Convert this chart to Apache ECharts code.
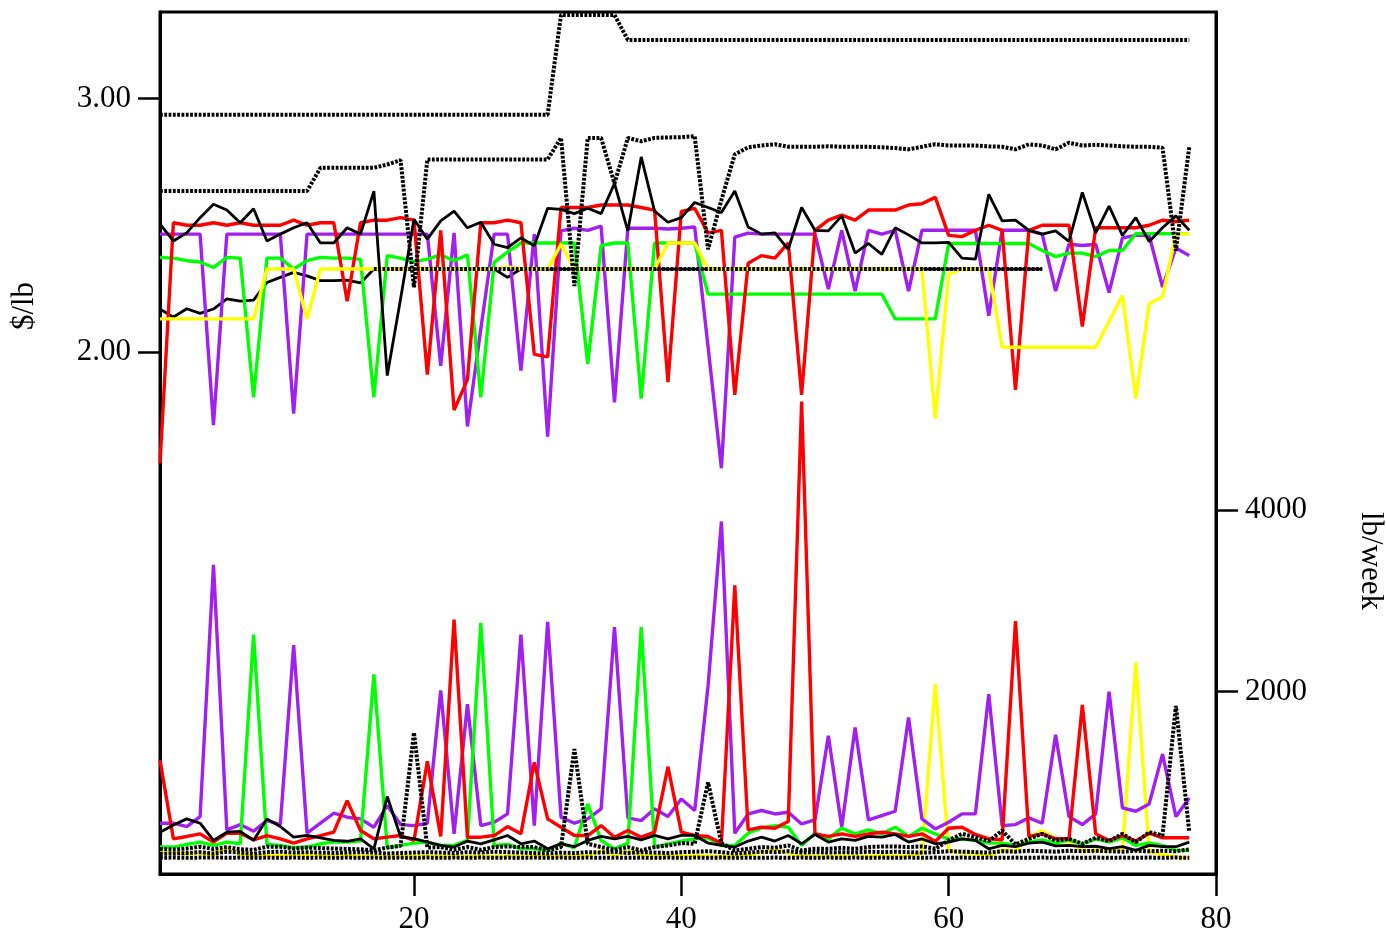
<!DOCTYPE html>
<html>
<head>
<meta charset="utf-8">
<script src="https://cdn.jsdelivr.net/npm/echarts@6/dist/echarts.min.js"></script>
<style>
html,body{margin:0;padding:0;background:#fff;}
#chart{width:1386px;height:935px;}
</style>
</head>
<body>
<div id="chart"></div>
<script>
const weeks = [1,2,3,4,5,6,7,8,9,10,11,12,13,14,15,16,17,18,19,20,21,22,23,24,25,26,27,28,29,30,31,32,33,34,35,36,37,38,39,40,41,42,43,44,45,46,47,48,49,50,51,52,53,54,55,56,57,58,59,60,61,62,63,64,65,66,67,68,69,70,71,72,73,74,75,76,77,78];

const xTicks = [20, 40, 60, 80];
const priceTicks = [2, 3];
const qtyTicks = [2000, 4000];

const redPrice = [1.56,2.51,2.50,2.50,2.51,2.50,2.51,2.50,2.50,2.50,
 2.52,2.50,2.51,2.51,2.20,2.51,2.52,2.52,2.53,2.52,
 1.91,2.48,1.77,1.89,2.51,2.51,2.52,2.51,1.99,1.98,
 2.57,2.57,2.57,2.58,2.58,2.58,2.57,2.56,1.88,2.555,
 2.567,2.47,2.48,1.83,2.35,2.38,2.37,2.43,1.83,2.48,
 2.52,2.54,2.52,2.56,2.56,2.56,2.58,2.585,2.61,2.46,
 2.455,2.48,2.50,2.48,1.85,2.48,2.50,2.50,2.50,2.10,
 2.49,2.49,2.49,2.49,2.50,2.52,2.515,2.52];
const redQty = [1245,377,403,432,340,439,439,366,413,377,
 330,377,413,450,798,468,377,395,413,359,
 1231,403,2795,395,395,413,512,432,1220,597,
 505,413,413,523,395,468,395,450,1172,450,
 414,403,329,3172,476,505,494,567,5200,432,
 403,432,403,432,450,432,403,432,348,494,
 505,425,377,366,2777,403,432,377,377,1853,
 432,359,413,352,439,388,388,388];

const purplePrice = [2.465,2.465,2.465,2.465,1.71,2.465,2.465,2.465,2.465,2.465,
 1.756,2.465,2.465,2.465,2.465,2.465,2.465,2.465,2.465,2.465,
 2.465,1.945,2.47,1.705,2.09,2.465,2.465,1.926,2.465,1.665,
 2.478,2.488,2.48,2.497,1.80,2.488,2.488,2.488,2.485,2.488,
 2.493,2.02,1.54,2.453,2.469,2.465,2.465,2.465,2.465,2.465,
 2.248,2.48,2.24,2.48,2.465,2.48,2.24,2.48,2.48,2.48,
 2.48,2.48,2.143,2.48,2.48,2.48,2.465,2.24,2.425,2.42,
 2.425,2.234,2.45,2.46,2.46,2.256,2.41,2.38];
const purpleQty = [549,549,512,622,3399,476,534,461,578,534,
 2513,439,549,659,615,597,505,743,534,523,
 549,2014,432,1861,523,560,652,2630,523,2769,
 615,549,597,707,2711,608,578,707,622,817,
 689,2062,3876,439,651,689,651,670,541,585,
 1513,504,1604,585,633,681,1714,596,486,559,
 652,652,1971,523,534,608,549,1524,622,534,
 652,2000,718,681,762,1311,622,827];

const greenPrice = [2.373,2.37,2.36,2.355,2.333,2.373,2.37,1.82,2.37,2.37,
 2.327,2.36,2.373,2.37,2.37,2.365,1.82,2.38,2.37,2.355,
 2.366,2.383,2.36,2.383,1.82,2.354,2.394,2.43,2.43,2.43,
 2.43,2.43,1.953,2.42,2.43,2.43,1.815,2.43,2.43,2.43,
 2.43,2.228,2.228,2.228,2.228,2.228,2.228,2.228,2.228,2.228,
 2.228,2.228,2.228,2.228,2.228,2.13,2.13,2.13,2.13,2.428,
 2.428,2.428,2.428,2.428,2.428,2.428,2.40,2.376,2.39,2.39,
 2.376,2.40,2.40,2.467,2.467,2.467,2.467,2.467];
const greenQty = [286,286,315,340,304,340,322,2630,315,304,
 278,286,322,340,340,351,2190,278,304,330,
 340,304,304,359,2758,304,315,267,267,249,
 330,278,762,359,267,330,2711,286,322,351,
 377,388,304,304,439,498,523,505,304,439,
 377,494,432,476,432,505,403,494,432,373,
 377,359,330,330,304,340,366,330,366,322,
 377,340,388,304,330,304,249,249];

const yellowPrice = [2.13,2.13,2.13,2.13,2.13,2.13,2.13,2.13,2.327,2.327,
 2.327,2.13,2.327,2.327,2.327,2.327,2.327,2.327,2.327,2.327,
 2.327,2.327,2.327,2.327,2.327,2.327,2.335,2.327,2.327,2.327,
 2.425,2.327,2.327,2.327,2.327,2.327,2.327,2.327,2.43,2.43,
 2.43,2.327,2.327,2.327,2.327,2.327,2.327,2.327,2.327,2.327,
 2.327,2.327,2.327,2.327,2.327,2.327,2.327,2.327,1.736,2.307,
 2.327,2.327,2.327,2.018,2.018,2.018,2.018,2.018,2.018,2.018,
 2.018,2.12,2.222,1.815,2.19,2.218,2.465,2.467];
const yellowQty = [230,225,215,220,200,280,205,185,195,190,
 195,200,190,185,190,185,185,180,185,180,
 185,180,185,180,185,180,185,180,190,185,
 180,185,190,245,195,240,200,190,185,190,
 190,185,180,185,200,225,256,220,185,185,
 180,185,180,185,190,185,190,216,2085,249,
 220,213,194,249,242,395,468,377,340,242,
 249,242,249,2320,231,205,176,169];

const blackAPrice = [2.937,2.937,2.937,2.937,2.937,2.937,2.937,2.937,2.937,2.937,
 2.937,2.937,2.937,2.937,2.937,2.937,2.937,2.937,2.937,2.937,
 2.937,2.937,2.937,2.937,2.937,2.937,2.937,2.937,2.937,2.937,
 3.331,3.331,3.331,3.331,3.331,3.232,3.232,3.232,3.232,3.232,
 3.232,3.232,3.232,3.232,3.232,3.232,3.232,3.232,3.232,3.232,
 3.232,3.232,3.232,3.232,3.232,3.232,3.232,3.232,3.232,3.232,
 3.232,3.232,3.232,3.232,3.232,3.232,3.232,3.232,3.232,3.232,
 3.232,3.232,3.232,3.232,3.232,3.232,3.232,3.232];
const blackAQty = [168,170,168,170,172,168,170,168,170,168,
 170,168,170,168,170,168,170,168,170,168,
 170,168,170,168,170,168,170,168,170,168,
 170,168,170,168,170,168,170,168,170,168,
 170,168,170,168,170,168,170,168,170,168,
 170,168,170,168,170,168,170,168,170,168,
 170,168,170,168,170,168,170,168,170,168,
 170,168,170,168,170,168,170,168];

const blackBPrice = [2.635,2.635,2.635,2.635,2.635,2.635,2.635,2.635,2.635,2.635,
 2.635,2.635,2.727,2.727,2.727,2.727,2.727,2.74,2.757,2.255,
 2.76,2.76,2.76,2.76,2.76,2.76,2.76,2.76,2.76,2.76,
 2.845,2.26,2.845,2.845,2.665,2.845,2.832,2.845,2.847,2.848,
 2.852,2.405,2.60,2.78,2.808,2.815,2.82,2.81,2.81,2.81,
 2.812,2.81,2.81,2.81,2.808,2.805,2.80,2.81,2.82,2.815,
 2.815,2.815,2.812,2.81,2.80,2.82,2.815,2.80,2.826,2.815,
 2.818,2.815,2.812,2.81,2.81,2.806,2.40,2.81];
const blackBQty = [265,260,270,290,265,285,262,255,290,290,
 270,280,275,270,265,262,250,280,300,1549,
 280,286,256,286,256,286,293,286,286,249,
 286,1366,322,286,256,286,249,286,304,330,
 322,1000,329,249,267,286,278,304,249,267,
 267,278,267,286,293,293,286,293,267,360,
 432,395,352,468,315,377,432,359,377,322,
 388,352,432,340,450,414,1843,450];

const blackDPrice = [2.504,2.438,2.47,2.53,2.583,2.56,2.51,2.565,2.438,2.465,
 2.49,2.51,2.43,2.43,2.49,2.465,2.635,1.906,2.21,2.524,
 2.445,2.517,2.556,2.49,2.512,2.425,2.412,2.45,2.419,2.567,
 2.563,2.546,2.567,2.546,2.665,2.478,2.77,2.556,2.512,2.53,
 2.59,2.57,2.55,2.635,2.493,2.465,2.47,2.405,2.57,2.48,
 2.478,2.537,2.39,2.428,2.385,2.49,2.462,2.43,2.43,2.432,
 2.37,2.366,2.622,2.517,2.52,2.48,2.465,2.478,2.436,2.63,
 2.47,2.576,2.46,2.53,2.436,2.49,2.537,2.48];
const blackDQty = [450,530,597,549,359,450,458,359,597,513,
 395,414,388,359,350,377,267,843,400,380,
 340,304,286,352,322,366,414,322,352,267,
 322,290,359,403,377,403,366,414,377,414,
 414,330,304,286,352,395,352,414,322,425,
 341,377,359,403,395,425,341,377,322,340,
 377,360,267,304,290,330,340,300,304,290,
 295,270,290,249,304,290,290,340];

const blackEPrice = [2.169,2.137,2.17,2.152,2.169,2.209,2.2,2.204,2.274,2.294,
 2.314,2.30,2.281,2.281,2.283,2.272,2.327,2.327,2.327,2.327,
 2.327,2.327,2.327,2.327,2.327,2.327,2.294,2.327,2.327,2.327,
 2.327,2.327,2.327,2.327,2.327,2.327,2.327,2.327,2.327,2.327,
 2.327,2.327,2.327,2.327,2.327,2.327,2.327,2.327,2.327,2.327,
 2.327,2.327,2.327,2.327,2.327,2.327,2.327,2.327,2.327,2.327,
 2.327,2.327,2.327,2.327,2.327,2.327,2.327,null,null,null,
 null,null,null,null,null,null,null,null];
const blackCPrice = [null,null,null,null,null,null,null,null,null,null,
 null,null,null,null,null,null,2.327,2.327,2.327,2.327,
 2.327,2.327,2.327,2.327,2.327,2.327,2.327,2.327,2.327,2.327,
 2.327,2.327,2.327,2.327,2.327,2.327,2.327,2.327,2.327,2.327,
 2.327,2.327,2.327,2.327,2.327,2.327,2.327,2.327,2.327,2.327,
 2.327,2.327,2.327,2.327,2.327,2.327,2.327,2.327,2.327,2.327,
 2.327,2.327,2.327,2.327,2.327,2.327,2.327,null,null,null,
 null,null,null,null,null,null,null,null];
const blackEQty = [212,215,220,230,215,235,225,210,230,235,
 225,230,225,220,225,230,225,215,220,225,
 230,225,220,230,225,235,230,225,220,215,
 225,220,230,225,235,220,230,225,220,230,
 235,240,230,215,225,235,230,240,225,230,
 225,230,225,235,230,235,230,225,230,240,
 235,230,225,240,235,245,240,235,245,240,
 245,240,235,245,240,245,240,260];

function pairs(arr){ return weeks.map((w,i)=>[w, arr[i]]); }

const FONT = 'Liberation Serif';
const dotted = {color:'#000', width:4, type:[2.8,1.5], cap:'butt'};
function line(name, arr, axis, style, z){
  return {name:name, type:'line', yAxisIndex:axis, data:pairs(arr), showSymbol:false, symbol:'none',
    lineStyle:style, silent:true, animation:false, connectNulls:false, z:z||2};
}
const col = (c)=>({color:c, width:3.4, type:'solid'});
const solidBlack = {color:'#000', width:2.8, type:'solid'};

const series = [
  line('E price', blackEPrice, 0, solidBlack, 1),
  line('purple price', purplePrice, 0, col('#a020f0'), 2),
  line('green price', greenPrice, 0, col('#00ff00'), 2),
  line('red price', redPrice, 0, col('#ff0000'), 2),
  line('yellow price', yellowPrice, 0, col('#ffff00'), 2),
  line('D price', blackDPrice, 0, solidBlack, 3),
  line('B price', blackBPrice, 0, dotted, 3),
  line('A price', blackAPrice, 0, dotted, 3),
  line('C price', blackCPrice, 0, dotted, 3),
  line('yellow qty', yellowQty, 1, col('#ffff00'), 2),
  line('A qty', blackAQty, 1, dotted, 3),
  line('E qty', blackEQty, 1, dotted, 3),
  line('purple qty', purpleQty, 1, col('#a020f0'), 2),
  line('green qty', greenQty, 1, col('#00ff00'), 2),
  line('red qty', redQty, 1, col('#ff0000'), 2),
  line('B qty', blackBQty, 1, dotted, 3),
  line('D qty', blackDQty, 1, solidBlack, 3)
];

const labelStyle = {color:'#000', fontFamily:FONT, fontSize:31};
const chart = echarts.init(document.getElementById('chart'), null, {renderer:'canvas'});
chart.setOption({
  animation:false,
  backgroundColor:'#fff',
  grid:{left:160, right:170, top:12, bottom:58, show:true, borderColor:'#000', borderWidth:3, backgroundColor:'transparent'},
  xAxis:{type:'value', min:1, max:80,
    axisLine:{show:true, onZero:false, lineStyle:{color:'#000', width:3}},
    axisTick:{show:true, customValues:xTicks, length:22, lineStyle:{color:'#000', width:2.5}},
    axisLabel:Object.assign({customValues:xTicks, margin:30, formatter:(v)=>String(v)}, labelStyle),
    splitLine:{show:false}},
  yAxis:[
    {type:'value', position:'left', min:-0.063, max:3.3425,
     axisLine:{show:true, onZero:false, lineStyle:{color:'#000', width:3}},
     axisTick:{show:true, customValues:priceTicks, length:22, lineStyle:{color:'#000', width:2.5}},
     axisLabel:Object.assign({customValues:priceTicks, margin:29, formatter:(v)=>v.toFixed(2)}, labelStyle),
     splitLine:{show:false}},
    {type:'value', position:'right', min:-11, max:9494.5,
     axisLine:{show:true, onZero:false, lineStyle:{color:'#000', width:3}},
     axisTick:{show:true, customValues:qtyTicks, length:22, lineStyle:{color:'#000', width:2.5}},
     axisLabel:Object.assign({customValues:qtyTicks, margin:29, formatter:(v)=>String(v)}, labelStyle),
     splitLine:{show:false}}
  ],
  graphic:[
    {type:'text', x:25, y:306, rotation:Math.PI/2,
     style:{text:'$/lb', fill:'#000', font:'31px "Liberation Serif"', align:'center', verticalAlign:'middle'}},
    {type:'text', x:1370, y:561, rotation:-Math.PI/2,
     style:{text:'lb/week', fill:'#000', font:'31px "Liberation Serif"', align:'center', verticalAlign:'middle'}}
  ],
  series:series
});
</script>
</body>
</html>
